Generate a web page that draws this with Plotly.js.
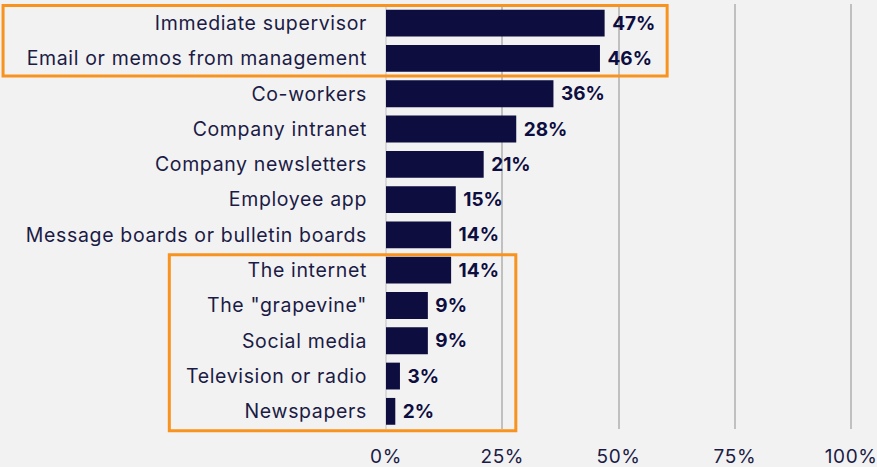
<!DOCTYPE html>
<html><head><meta charset="utf-8">
<script src="https://cdn.plot.ly/plotly-3.0.1.min.js"></script>
<style>
html,body{margin:0;padding:0;background:#f2f2f2;}
.ytick text{letter-spacing:0.65px;}
.xtick text{letter-spacing:0.6px;}
</style>
</head><body>
<div id="chart" style="width:877px;height:467px;"></div>
<script>
const categories = ["Immediate supervisor","Email or memos from management","Co-workers","Company intranet","Company newsletters","Employee app","Message boards or bulletin boards","The internet","The \"grapevine\"","Social media","Television or radio","Newspapers"];
const values = [47,46,36,28,21,15,14,14,9,9,3,2];
const valueLabels = ["47%","46%","36%","28%","21%","15%","14%","14%","9%","9%","3%","2%"];
const tickVals = [0,25,50,75,100];
const tickText = ["0%","25%","50%","75%","100%"];

const navy = "#0d0d3f";
const orange = "#f7931e";

const trace = {
  type: "bar", orientation: "h",
  x: values, y: categories,
  marker: {color: navy},
  text: valueLabels.map(t => " " + t),
  textposition: "outside",
  textfont: {family: "Inter, sans-serif", size: 19, color: navy, weight: 700},
  cliponaxis: false,
  hoverinfo: "none"
};

const layout = {
  width: 877, height: 467,
  margin: {l: 386, r: 24, t: 4, b: 38},
  paper_bgcolor: "#f2f2f2", plot_bgcolor: "#f2f2f2",
  bargap: 0.24,
  showlegend: false,
  font: {family: "Inter, sans-serif", size: 19, color: "#1b1b45"},
  xaxis: {
    range: [0, 100.4], tickvals: tickVals, ticktext: tickText,
    showgrid: true, gridcolor: "#c0c0c0", gridwidth: 2,
    zeroline: true, zerolinecolor: "#d9d9d9", zerolinewidth: 1.5,
    showline: false, ticks: "", fixedrange: true,
    ticklabelstandoff: 14, ticklabeloverflow: "allow",
    tickfont: {size: 19, color: "#1b1b45"}
  },
  yaxis: {
    type: "category", autorange: "reversed",
    showgrid: false, zeroline: false, showline: false,
    ticks: "", ticklabelstandoff: 18,
    tickfont: {size: 19.5, color: "#1b1b45"}
  },
  shapes: [
    {type: "rect", xref: "paper", yref: "y", x0: -0.82, x1: 0.602, y0: -0.5, y1: 1.5,
     line: {color: orange, width: 3}, layer: "above"},
    {type: "rect", xref: "paper", yref: "paper", x0: -0.464, x1: 0.278, y0: 0.41, y1: -0.004,
     line: {color: orange, width: 3}, layer: "above"}
  ]
};

Plotly.newPlot("chart", [trace], layout, {displayModeBar: false, staticPlot: true});
</script>
</body></html>
